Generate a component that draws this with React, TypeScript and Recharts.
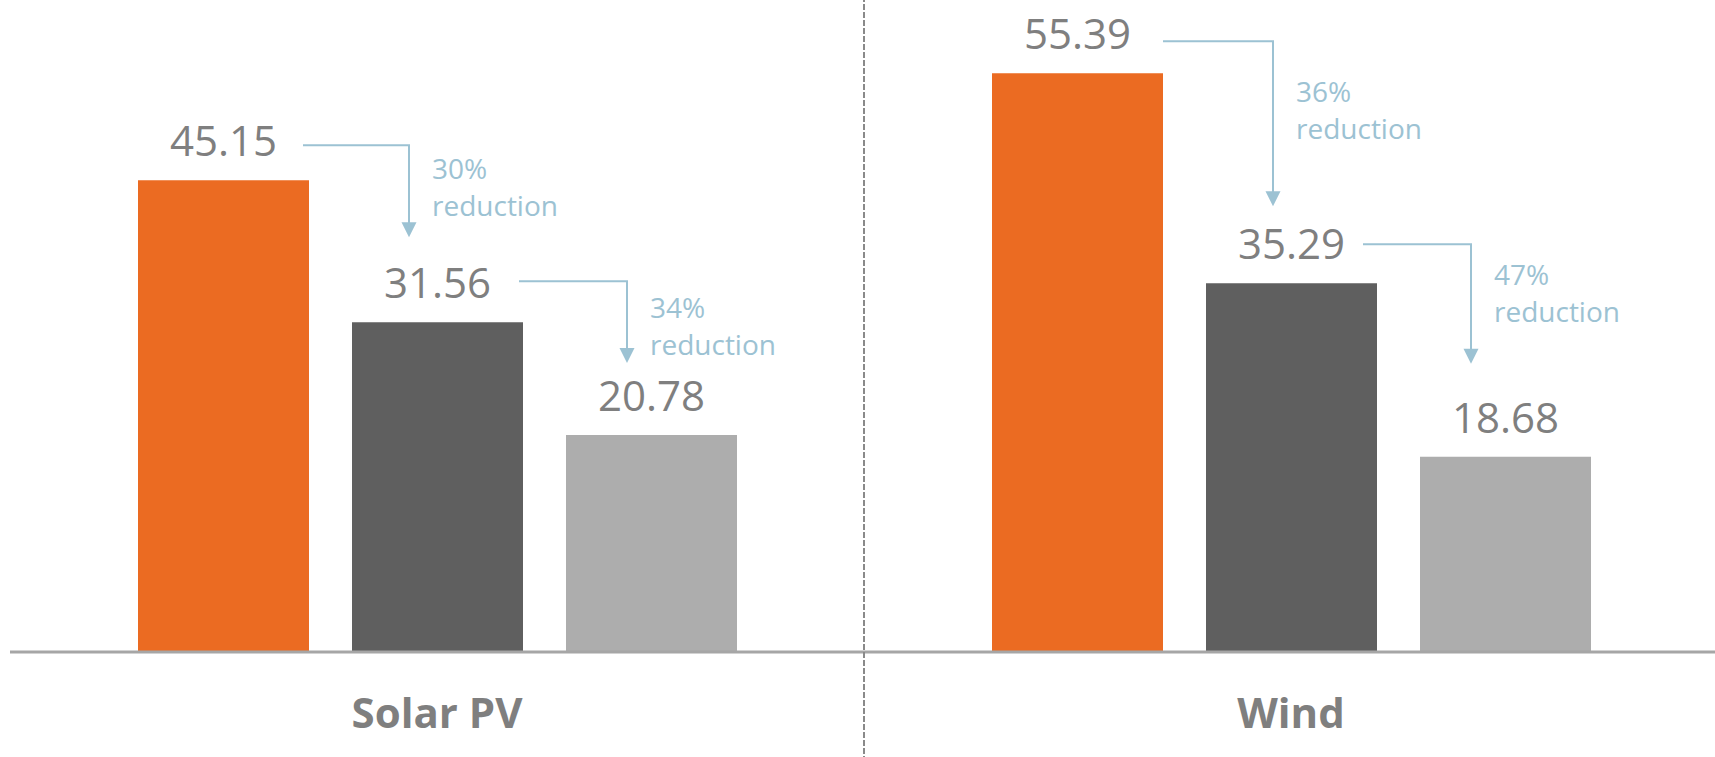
import React from 'react';
import { BarChart, Bar, XAxis, YAxis, LabelList } from 'recharts';

// ---- data ----
const categories = ['Solar PV', 'Wind'];
const firstValues = [45.15, 55.39];
const secondValues = [31.56, 35.29];
const thirdValues = [20.78, 18.68];
const firstReductions = ['30%', '36%'];
const secondReductions = ['34%', '47%'];
const reductionWord = 'reduction';

const data = categories.map((name, i) => ({
  name,
  first: firstValues[i],
  second: secondValues[i],
  third: thirdValues[i],
}));

// ---- style ----
const FONT = '"Open Sans", "Noto Sans", sans-serif';
const ORANGE = '#EB6B22';
const DARK = '#5F5F5F';
const LIGHT = '#ADADAD';
const AXIS = '#A6A6A6';
const TEXT = '#7F7F7F';
const BLUE = '#9CC2D3';
const BAR_SIZE = 171;
const BAR_GAP = 43;

// relative annotation placement (offsets from the data-driven bar geometry)
const ARROW_LAYOUT = [
  [
    { lift: 35, startDx: -6, inset: 57, tipGap: 85, textDy: 34 },
    { lift: 41, startDx: -4, inset: 61, tipGap: 72, textDy: 37 },
  ],
  [
    { lift: 32, startDx: 0, inset: 67, tipGap: 77, textDy: 61 },
    { lift: 39, startDx: -14, inset: 51, tipGap: 93, textDy: 41 },
  ],
];

const makeLabel = (seriesIdx: number) => (props: any) => {
  const vb = props.viewBox || {};
  const x = Number(props.x ?? vb.x);
  const y = Number(props.y ?? vb.y);
  const w = Number(props.width ?? vb.width);
  const h = Number(props.height ?? vb.height);
  const index = Number(props.index ?? 0);
  const own = [firstValues, secondValues, thirdValues][seriesIdx][index];
  const cx = x + w / 2;
  const parts: React.ReactNode[] = [
    <text
      key="v"
      x={cx}
      y={y - 24}
      textAnchor="middle"
      fontFamily={FONT}
      fontSize={42}
      fill={TEXT}
    >
      {own.toFixed(2)}
    </text>,
  ];
  if (seriesIdx < 2) {
    const nextVal = (seriesIdx === 0 ? secondValues : thirdValues)[index];
    const pct = (seriesIdx === 0 ? firstReductions : secondReductions)[index];
    const pxPerUnit = h / own;
    const bottom = y + h;
    const nextTop = bottom - nextVal * pxPerUnit;
    const nextLeft = x + w + BAR_GAP;
    const L = ARROW_LAYOUT[index][seriesIdx];
    const hY = y - L.lift;
    const x0 = x + w + L.startDx;
    const vX = nextLeft + L.inset;
    const tip = nextTop - L.tipGap;
    parts.push(
      <path
        key="p"
        d={`M${x0},${hY} H${vX} V${tip - 13}`}
        stroke={BLUE}
        strokeWidth={2}
        fill="none"
      />,
      <polygon
        key="a"
        points={`${vX - 7.5},${tip - 15} ${vX + 7.5},${tip - 15} ${vX},${tip}`}
        fill={BLUE}
      />,
      <text key="t1" x={vX + 23} y={hY + L.textDy} fontFamily={FONT} fontSize={28} fill={BLUE}>
        {pct}
      </text>,
      <text key="t2" x={vX + 23} y={hY + L.textDy + 37} fontFamily={FONT} fontSize={28} fill={BLUE}>
        {reductionWord}
      </text>
    );
  }
  return <g>{parts}</g>;
};

const CategoryTick = (props: any) => {
  const { x, y, payload, index } = props;
  const half = payload && payload.offset != null ? payload.offset : 427;
  return (
    <g>
      {index > 0 && (
        <line
          x1={x - half}
          x2={x - half}
          y1={y - 1000}
          y2={y + 1000}
          stroke="#8A8A8A"
          strokeWidth={2}
          strokeDasharray="6 2"
        />
      )}
      <text
        x={x}
        y={y + 76}
        textAnchor="middle"
        fontFamily={FONT}
        fontSize={42}
        fontWeight={700}
        fill={TEXT}
      >
        {payload.value}
      </text>
    </g>
  );
};

export default function App() {
  return (
    <div
      style={{
        position: 'absolute',
        left: 0,
        top: 0,
        width: 1715,
        height: 757,
        overflow: 'hidden',
        background: '#fff',
      }}
    >
      <BarChart
        width={1718}
        height={757}
        data={data}
        margin={{ top: 0, right: 0, left: 10, bottom: 0 }}
        barSize={BAR_SIZE}
        barGap={BAR_GAP}
      >
        <XAxis
          dataKey="name"
          height={105}
          tickLine={false}
          tickSize={0}
          tickMargin={0}
          axisLine={{ stroke: AXIS, strokeWidth: 3 }}
          tick={<CategoryTick />}
          interval={0}
        />
        <YAxis hide domain={[0, 62.4]} />
        <Bar dataKey="first" fill={ORANGE} isAnimationActive={false}>
          <LabelList dataKey="first" content={makeLabel(0)} />
        </Bar>
        <Bar dataKey="second" fill={DARK} isAnimationActive={false}>
          <LabelList dataKey="second" content={makeLabel(1)} />
        </Bar>
        <Bar dataKey="third" fill={LIGHT} isAnimationActive={false}>
          <LabelList dataKey="third" content={makeLabel(2)} />
        </Bar>
      </BarChart>
    </div>
  );
}
